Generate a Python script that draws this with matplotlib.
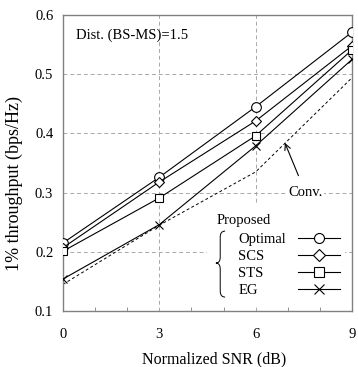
import matplotlib
matplotlib.use('Agg')
import matplotlib.pyplot as plt
from matplotlib.path import Path
from matplotlib.patches import PathPatch, Rectangle
from matplotlib.lines import Line2D
from matplotlib.ticker import MultipleLocator

plt.rcParams['font.family'] = ['Liberation Serif', 'DejaVu Serif']

# data
snr = [0, 3, 6, 9]
optimal = [0.215, 0.326, 0.445, 0.571]
scs = [0.207, 0.318, 0.421, 0.548]
sts = [0.201, 0.291, 0.396, 0.541]
eg = [0.154, 0.246, 0.379, 0.525]
conv = [0.145, 0.245, 0.335, 0.494]

names = ['Optimal', 'SCS', 'STS', 'EG']
markers = ['o', 'D', 's', 'x']
values = [optimal, scs, sts, eg]
plot_ms = {'o': 7.0, 'D': 5.0, 's': 5.2, 'x': 6.0}
leg_ms = {'o': 7.2, 'D': 6.5, 's': 6.5, 'x': 6.5}

fig = plt.figure(figsize=(3.58, 3.67), dpi=100)
ax = fig.add_axes([63 / 358, 1 - 311 / 367, 289 / 358, 296 / 367])

for name, vals, m in zip(names, values, markers):
    ax.plot(snr, vals, color='black', lw=0.8, marker=m, ms=plot_ms[m],
            mfc='white', mec='black', mew=0.8, zorder=3)
ax.plot(snr, conv, color='black', lw=0.7, ls=(0, (3, 2.5)), zorder=2)

ax.set_xlim(0, 9)
ax.set_ylim(0.1, 0.6)
ax.set_xticks(snr)
ax.set_yticks([0.1, 0.2, 0.3, 0.4, 0.5, 0.6])
ax.xaxis.set_minor_locator(MultipleLocator(1))
ax.tick_params(which='both', direction='in', labelsize=10.5, color='#808080')
ax.tick_params(axis='x', which='major', length=0, pad=12)
ax.tick_params(axis='x', which='minor', length=3)
ax.tick_params(axis='y', length=0, pad=7)
ax.grid(True, color='#a8a8a8', ls=(0, (4, 3)), lw=0.7)
for s in ax.spines.values():
    s.set_color('#808080')
    s.set_linewidth(1.0)

ax.set_xlabel('Normalized SNR (dB)', fontsize=11.5)
ax.xaxis.set_label_coords(0.522, -0.135)
ax.set_ylabel('1% throughput (bps/Hz)', fontsize=13)
ax.yaxis.set_label_coords(-0.138, 0.432)

ax.text(0.42, 0.566, 'Dist. (BS-MS)=1.5', fontsize=10.5, va='center')

ax.annotate('Conv.', xy=(6.91, 0.384), xytext=(7.55, 0.30), fontsize=10.5,
            ha='center', va='center',
            bbox=dict(fc='white', ec='none', pad=1),
            arrowprops=dict(arrowstyle='->', lw=0.8, color='black',
                            shrinkA=7, shrinkB=0))

# white area behind the legend block
ax.add_patch(Rectangle((0.498, 0.02), 0.478, 0.338, transform=ax.transAxes,
                       fc='white', ec='none', zorder=2.5))

# legend: labels on the left, line keys on the right
label_handles = [Line2D([], [], ls='none') for _ in names]
leg_a = ax.legend(label_handles, names, loc='upper left', frameon=False,
                  fontsize=10.5, handlelength=0, handletextpad=0,
                  labelspacing=0.25, borderpad=0, borderaxespad=0,
                  bbox_to_anchor=(0.606, 0.263))
ax.add_artist(leg_a)
key_handles = [Line2D([], [], color='black', lw=0.8, marker=m, ms=leg_ms[m],
                      mfc='white', mec='black', mew=0.8) for m in markers]
ax.legend(key_handles, [''] * len(names), loc='upper left', frameon=False,
          fontsize=10.5, handlelength=2.9, handletextpad=0,
          labelspacing=0.25, borderpad=0, borderaxespad=0,
          bbox_to_anchor=(0.813, 0.263))

ax.text(0.533, 0.305, 'Proposed', transform=ax.transAxes, fontsize=10.5,
        ha='left', va='center', zorder=4)

# brace to the left of the legend entries
x_end, x_mid, x_tip = 0.561, 0.544, 0.529
verts = [(x_end, 0.270), (x_mid, 0.270), (x_mid, 0.250), (x_mid, 0.182),
         (x_mid, 0.162), (x_tip, 0.162), (x_mid, 0.162), (x_mid, 0.142),
         (x_mid, 0.068), (x_mid, 0.047), (x_end, 0.047)]
codes = [Path.MOVETO, Path.CURVE3, Path.CURVE3, Path.LINETO,
         Path.CURVE3, Path.CURVE3, Path.CURVE3, Path.CURVE3,
         Path.LINETO, Path.CURVE3, Path.CURVE3]
ax.add_patch(PathPatch(Path(verts, codes), fc='none', ec='black', lw=0.7,
                       transform=ax.transAxes, zorder=4))

fig.savefig('out.png', dpi=100)
